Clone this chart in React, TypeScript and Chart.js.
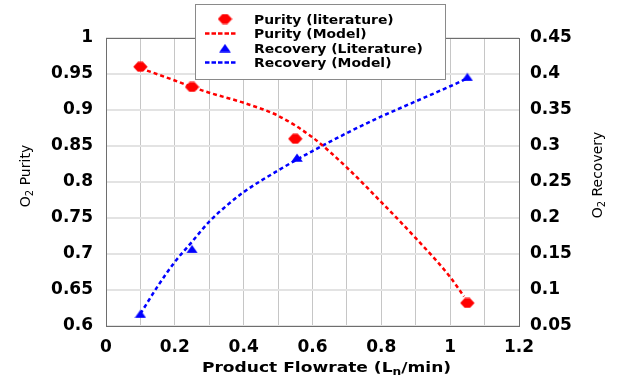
import React, { useEffect, useRef } from 'react';
import { Chart, registerables } from 'chart.js';

Chart.register(...registerables);

// ---- data ----
const purityLitFlow = [0.1, 0.25, 0.55, 1.05];
const purityLit = [0.96, 0.932, 0.86, 0.632];
const recoveryLitFlow = [0.1, 0.25, 0.555, 1.05];
const recoveryLit = [0.067, 0.157, 0.284, 0.396];
const purityModelFlow = [0.1, 0.2, 0.25, 0.3, 0.4, 0.5, 0.6, 0.7, 0.8, 0.9, 1.0, 1.04];
const purityModel = [0.958, 0.941, 0.932, 0.924, 0.91, 0.892, 0.862, 0.82, 0.772, 0.722, 0.668, 0.641];
const recoveryModelFlow = [0.1, 0.15, 0.2, 0.25, 0.3, 0.35, 0.4, 0.5, 0.6, 0.7, 0.8, 0.9, 1.0, 1.05];
const recoveryModel = [0.067, 0.105, 0.139, 0.167, 0.195, 0.217, 0.236, 0.266, 0.293, 0.318, 0.341, 0.362, 0.383, 0.394];

const xTicks = [0, 0.1, 0.2, 0.3, 0.4, 0.5, 0.6, 0.7, 0.8, 0.9, 1.0, 1.1, 1.2];
const xTickLabels = ['0', '', '0.2', '', '0.4', '', '0.6', '', '0.8', '', '1', '', '1.2'];
const purityTicks = [0.6, 0.65, 0.7, 0.75, 0.8, 0.85, 0.9, 0.95, 1.0];
const purityTickLabels = ['0.6', '0.65', '0.7', '0.75', '0.8', '0.85', '0.9', '0.95', '1'];
const recoveryTicks = [0.05, 0.1, 0.15, 0.2, 0.25, 0.3, 0.35, 0.4, 0.45];
const recoveryTickLabels = ['0.05', '0.1', '0.15', '0.2', '0.25', '0.3', '0.35', '0.4', '0.45'];

const legendLabels = ['Purity (literature)', 'Purity (Model)', 'Recovery (Literature)', 'Recovery (Model)'];
const xTitle = ['Product Flowrate (L', 'n', '/min)'];
const yLeftTitle = ['O', '2', ' Purity'];
const yRightTitle = ['O', '2', ' Recovery'];

const RED = '#ff0000';
const BLUE = '#0000ff';

function makeDiamond(): HTMLCanvasElement {
  const c = document.createElement('canvas');
  c.width = 15;
  c.height = 11;
  const g = c.getContext('2d')!;
  g.fillStyle = RED;
  g.beginPath();
  g.moveTo(0.3, 5.5);
  g.lineTo(5, 0.6);
  g.lineTo(10, 0.6);
  g.lineTo(14.7, 5.5);
  g.lineTo(10, 10.4);
  g.lineTo(5, 10.4);
  g.closePath();
  g.fill();
  return c;
}

function makeTriangle(): HTMLCanvasElement {
  const c = document.createElement('canvas');
  c.width = 12;
  c.height = 9;
  const g = c.getContext('2d')!;
  g.fillStyle = BLUE;
  g.beginPath();
  g.moveTo(6, 0.5);
  g.lineTo(11.8, 8.8);
  g.lineTo(0.2, 8.8);
  g.closePath();
  g.fill();
  return c;
}

function drawRich(
  ctx: CanvasRenderingContext2D,
  parts: string[],
  font: string,
  subFont: string,
  subDrop: number,
) {
  ctx.font = font;
  const w0 = ctx.measureText(parts[0]).width;
  const w2 = ctx.measureText(parts[2]).width;
  ctx.font = subFont;
  const w1 = ctx.measureText(parts[1]).width;
  const total = w0 + w1 + w2;
  let x = -total / 2;
  ctx.textAlign = 'left';
  ctx.textBaseline = 'alphabetic';
  ctx.font = font;
  ctx.fillText(parts[0], x, 0);
  x += w0;
  ctx.font = subFont;
  ctx.fillText(parts[1], x, subDrop);
  x += w1;
  ctx.font = font;
  ctx.fillText(parts[2], x, 0);
}

export default function App() {
  const ref = useRef<HTMLCanvasElement | null>(null);

  useEffect(() => {
    const canvas = ref.current;
    if (!canvas) return;
    const diamond = makeDiamond();
    const triangle = makeTriangle();

    const frame = {
      id: 'frame',
      beforeDatasetsDraw(chart: any) {
        const { ctx, chartArea: a } = chart;
        ctx.save();
        ctx.strokeStyle = '#6e6e6e';
        ctx.lineWidth = 1;
        ctx.strokeRect(Math.round(a.left) + 0.5, Math.round(a.top) + 0.5, Math.round(a.right - a.left), Math.round(a.bottom - a.top));
        ctx.restore();
      },
    };

    const decor = {
      id: 'decor',
      afterDraw(chart: any) {
        const ctx: CanvasRenderingContext2D = chart.ctx;
        const a = chart.chartArea;
        ctx.save();
        ctx.fillStyle = '#000';
        // x title
        ctx.save();
        ctx.translate((a.left + a.right) / 2 + 14, 372);
        ctx.scale(1.22, 1);
        drawRich(ctx, xTitle, 'bold 14px "DejaVu Sans"', 'bold 10px "DejaVu Sans"', 3);
        ctx.restore();
        // left title
        ctx.save();
        ctx.translate(30, (a.top + a.bottom) / 2 - 6);
        ctx.rotate(-Math.PI / 2);
        drawRich(ctx, yLeftTitle, '14px "DejaVu Sans"', '10px "DejaVu Sans"', 3);
        ctx.restore();
        // right title
        ctx.save();
        ctx.translate(601.5, (a.top + a.bottom) / 2 - 7);
        ctx.rotate(-Math.PI / 2);
        drawRich(ctx, yRightTitle, '14px "DejaVu Sans"', '10px "DejaVu Sans"', 3);
        ctx.restore();

        // legend
        ctx.fillStyle = '#ffffff';
        ctx.fillRect(195.5, 4.5, 250, 75);
        ctx.strokeStyle = '#8a8a8a';
        ctx.lineWidth = 1;
        ctx.strokeRect(195.5, 4.5, 250, 75);
        const baselines = [23.5, 38, 52.5, 67];
        const centers = [19, 33.5, 48, 62.5];
        ctx.drawImage(diamond, 225 - diamond.width / 2, centers[0] - diamond.height / 2);
        ctx.drawImage(triangle, 225 - triangle.width / 2, centers[2] - triangle.height / 2);
        ctx.lineWidth = 2.5;
        ctx.setLineDash([4.5, 2]);
        ctx.strokeStyle = RED;
        ctx.beginPath();
        ctx.moveTo(205, centers[1]);
        ctx.lineTo(237, centers[1]);
        ctx.stroke();
        ctx.strokeStyle = BLUE;
        ctx.beginPath();
        ctx.moveTo(205, centers[3]);
        ctx.lineTo(237, centers[3]);
        ctx.stroke();
        ctx.setLineDash([]);
        legendLabels.forEach((t, i) => {
          ctx.save();
          ctx.fillStyle = '#000';
          ctx.font = 'bold 13px "DejaVu Sans"';
          ctx.textAlign = 'left';
          ctx.textBaseline = 'alphabetic';
          ctx.translate(254, baselines[i]);
          ctx.scale(1.07, 1);
          ctx.fillText(t, 0, 0);
          ctx.restore();
        });
        ctx.restore();
      },
    };

    const tickFont = { family: 'DejaVu Sans', size: 17, weight: 'bold' as const };

    const chart = new Chart(canvas, {
      type: 'line',
      data: {
        datasets: [
          {
            label: legendLabels[0],
            data: purityLitFlow.map((x, i) => ({ x, y: purityLit[i] })),
            yAxisID: 'y',
            showLine: false,
            pointStyle: diamond as any,
            backgroundColor: RED,
            borderColor: RED,
          },
          {
            label: legendLabels[2],
            data: recoveryLitFlow.map((x, i) => ({ x, y: recoveryLit[i] })),
            yAxisID: 'y2',
            showLine: false,
            pointStyle: triangle as any,
            backgroundColor: BLUE,
            borderColor: BLUE,
          },
          {
            label: legendLabels[1],
            data: purityModelFlow.map((x, i) => ({ x, y: purityModel[i] })),
            yAxisID: 'y',
            borderColor: RED,
            borderWidth: 2.5,
            borderDash: [4, 3],
            pointRadius: 0,
            cubicInterpolationMode: 'monotone',
            fill: false,
          },
          {
            label: legendLabels[3],
            data: recoveryModelFlow.map((x, i) => ({ x, y: recoveryModel[i] })),
            yAxisID: 'y2',
            borderColor: BLUE,
            borderWidth: 2.5,
            borderDash: [4, 3],
            pointRadius: 0,
            cubicInterpolationMode: 'monotone',
            fill: false,
          },
        ],
      },
      options: {
        responsive: false,
        animation: false,
        devicePixelRatio: 1,
        layout: { padding: { top: 38, left: 0, right: 0, bottom: 0 } },
        plugins: {
          legend: { display: false },
          tooltip: { enabled: false },
          title: { display: false },
        },
        scales: {
          x: {
            type: 'linear',
            min: 0,
            max: 1.2,
            afterBuildTicks: (s: any) => {
              s.ticks = xTicks.map((v) => ({ value: v }));
            },
            afterFit: (s: any) => {
              s.height = 53;
            },
            ticks: {
              autoSkip: false,
              maxRotation: 0,
              padding: 11,
              color: '#000',
              font: tickFont,
              callback: (_v: any, i: number) => xTickLabels[i],
            },
            grid: { color: '#c6c6c6', lineWidth: 1, drawTicks: false },
            border: { display: false },
          },
          y: {
            type: 'linear',
            position: 'left',
            min: 0.6,
            max: 1.0,
            afterBuildTicks: (s: any) => {
              s.ticks = purityTicks.map((v) => ({ value: v }));
            },
            afterFit: (s: any) => {
              s.width = 106;
            },
            ticks: {
              autoSkip: false,
              padding: 13,
              color: '#000',
              font: tickFont,
              callback: (_v: any, i: number) => purityTickLabels[i],
            },
            grid: { color: '#e3e3e3', lineWidth: 2, drawTicks: false },
            border: { display: false },
          },
          y2: {
            type: 'linear',
            position: 'right',
            min: 0.05,
            max: 0.45,
            afterBuildTicks: (s: any) => {
              s.ticks = recoveryTicks.map((v) => ({ value: v }));
            },
            afterFit: (s: any) => {
              s.width = 105;
            },
            ticks: {
              autoSkip: false,
              padding: 11,
              color: '#000',
              font: tickFont,
              callback: (_v: any, i: number) => recoveryTickLabels[i],
            },
            grid: { drawOnChartArea: false, drawTicks: false },
            border: { display: false },
          },
        },
      } as any,
      plugins: [frame, decor],
    });

    return () => chart.destroy();
  }, []);

  return (
    <div style={{ position: 'fixed', left: 0, top: 0, width: 624, height: 379, background: '#fff' }}>
      <canvas ref={ref} width={624} height={379} style={{ display: 'block', width: 624, height: 379 }} />
    </div>
  );
}
